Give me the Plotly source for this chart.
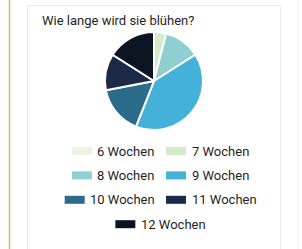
import plotly.graph_objects as go

# ---- data ----
categories = ["6 Wochen", "7 Wochen", "8 Wochen", "9 Wochen", "10 Wochen", "11 Wochen", "12 Wochen"]
values = [0, 1, 3, 10, 4, 3, 4]
colors = ["#eaf4e1", "#d5eac6", "#8fcfcf", "#43b1d8", "#2b6c8b", "#1b2a46", "#0d1421"]
title_text = "Wie lange wird sie blühen?"

W, H = 302, 249
FONT = "Roboto"
FS = 13


def px(x):
    return x / W


def py(y):
    return 1 - y / H


# rough Roboto advance widths (em) for label width estimation
CW = {" ": 0.248, "W": 0.888, "o": 0.57, "c": 0.523, "h": 0.551, "e": 0.53, "n": 0.552}


def text_w(s, size):
    return sum(CW.get(ch, 0.562) for ch in s) * size


fig = go.Figure(
    go.Pie(
        labels=categories,
        values=values,
        marker=dict(colors=colors, line=dict(color="white", width=2)),
        sort=False,
        direction="clockwise",
        rotation=0,
        textinfo="none",
        hoverinfo="label+percent",
        showlegend=False,
        domain=dict(x=[px(105), px(203)], y=[py(130.5), py(31.5)]),
    )
)

shapes = []
annotations = []

# decorative frame
shapes.append(dict(type="line", xref="paper", yref="paper", x0=px(9.5), x1=px(9.5), y0=0, y1=1,
                   line=dict(color="#e3ab76", width=1.5)))
shapes.append(dict(type="line", xref="paper", yref="paper", x0=px(298), x1=px(298), y0=0, y1=1,
                   line=dict(color="#f0f0f0", width=1)))
shapes.append(dict(type="path", xref="paper", yref="paper",
                   path=f"M {px(27.5)} 0 L {px(27.5)} {py(5.5)} L {px(280.5)} {py(5.5)} L {px(280.5)} 0",
                   line=dict(color="#e9e9e9", width=1)))

# title
annotations.append(dict(text=title_text, xref="paper", yref="paper", x=px(40), y=py(21),
                        xanchor="left", yanchor="middle", showarrow=False,
                        font=dict(family=FONT, size=13, color="#1f1f1f")))

# custom legend: two columns around a centre line, last odd item centred
center = 159.5
gap = 6.5
sw_w, sw_h, sw_gap = 20, 8, 3.5
row_y0, row_dy = 151, 24.4
n = len(categories)
for i, (lab, col) in enumerate(zip(categories, colors)):
    row, c = divmod(i, 2)
    y = row_y0 + row * row_dy
    tw = text_w(lab, FS)
    item_w = sw_w + sw_gap + tw
    if i == n - 1 and n % 2 == 1:
        left = center - item_w / 2
    elif c == 0:
        left = center - gap - item_w
    else:
        left = center + gap
    shapes.append(dict(type="rect", xref="paper", yref="paper",
                       x0=px(left), x1=px(left + sw_w), y0=py(y + sw_h / 2), y1=py(y - sw_h / 2),
                       fillcolor=col, line=dict(width=0)))
    annotations.append(dict(text=lab, xref="paper", yref="paper", x=px(left + sw_w + sw_gap), y=py(y),
                            xanchor="left", yanchor="middle", showarrow=False,
                            font=dict(family=FONT, size=FS, color="#1f1f1f")))

fig.update_layout(
    width=W, height=H,
    margin=dict(l=0, r=0, t=0, b=0),
    paper_bgcolor="white", plot_bgcolor="white",
    shapes=shapes, annotations=annotations,
    showlegend=False,
)

fig.write_html("out.html")
